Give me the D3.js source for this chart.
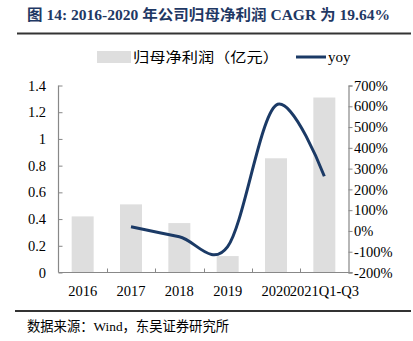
<!DOCTYPE html>
<html><head><meta charset="utf-8">
<script src="https://cdn.jsdelivr.net/npm/d3@7"></script>
<style>body{margin:0;background:#fff}svg{display:block}</style>
</head><body>
<script>
const categories = ["2016","2017","2018","2019","2020","2021Q1-Q3"];
const profit = [0.42, 0.51, 0.37, 0.123, 0.855, 1.31];
const yoy = [null, 20, -28, -75, 605, 263];
const leftTicks = [0,0.2,0.4,0.6,0.8,1,1.2,1.4];
const rightTicks = [-200,-100,0,100,200,300,400,500,600,700];
const title = "图 14: 2016-2020 年公司归母净利润 CAGR 为 19.64%";
const source = "数据来源：Wind，东吴证券研究所";
const legendBar = "归母净利润（亿元）";
const legendLine = "yoy";

const W = 413, H = 341;
const serif = "'Liberation Serif','DejaVu Serif',serif";
const cjk = "'Liberation Serif','Noto Sans CJK SC',serif";
const svg = d3.select("body").append("svg").attr("width", W).attr("height", H);

const x0 = 58.5, x1 = 348.5, yTop = 85.5, yBot = 272.5;
const xc = d3.scaleBand().domain(categories).range([x0, x1]);
const yL = d3.scaleLinear().domain([0, 1.4]).range([yBot, yTop]);
const yR = d3.scaleLinear().domain([-200, 700]).range([yBot, yTop]);

// title
svg.append("text").attr("x", 27).attr("y", 20).attr("fill", "#1f3864")
  .attr("font-family", cjk).attr("font-weight", "bold").attr("font-size", 14.5)
  .attr("textLength", 363).attr("lengthAdjust", "spacingAndGlyphs").text(title);
svg.append("line").attr("x1", 17).attr("x2", 411).attr("y1", 33.5).attr("y2", 33.5)
  .attr("stroke", "#333").attr("stroke-width", 2);

// bars
svg.append("g").selectAll("rect").data(categories).join("rect")
  .attr("x", d => xc(d) + xc.bandwidth()/2 - 11)
  .attr("width", 22)
  .attr("y", (d,i) => yL(profit[i]))
  .attr("height", (d,i) => yBot - yL(profit[i]))
  .attr("fill", "#dedede");

// axes
const axisColor = "#888";
const gL = svg.append("g").attr("transform", `translate(${x0},0)`)
  .call(d3.axisLeft(yL).tickValues(leftTicks).tickSize(-4).tickPadding(12.5).tickFormat(d3.format("")));
const gR = svg.append("g").attr("transform", `translate(${x1},0)`)
  .call(d3.axisRight(yR).tickValues(rightTicks).tickSize(4).tickPadding(1.5).tickFormat(d => d + "%"));
const gB = svg.append("g").attr("transform", `translate(0,${yBot})`)
  .call(d3.axisBottom(xc).tickSize(0).tickPadding(13));
// category boundary ticks
svg.append("g").selectAll("line").data(categories.slice(1)).join("line")
  .attr("x1", d => Math.round(xc(d)) + 0.5).attr("x2", d => Math.round(xc(d)) + 0.5)
  .attr("y1", yBot).attr("y2", yBot - 4).attr("stroke", axisColor);
[gL, gR, gB].forEach(g => {
  g.selectAll("path.domain").attr("stroke", axisColor).attr("stroke-width", 1.2);
  g.selectAll(".tick line").attr("stroke", axisColor);
  g.selectAll("text").attr("font-family", serif).attr("font-size", 14.5).attr("fill", "#000");
});
gL.select("path.domain").remove();
svg.append("line").attr("x1", x0).attr("x2", x0).attr("y1", yTop).attr("y2", yBot).attr("stroke", axisColor).attr("stroke-width", 1.2);
gB.select("path.domain").remove();
svg.append("line").attr("x1", x0).attr("x2", x1 + 4).attr("y1", yBot).attr("y2", yBot).attr("stroke", axisColor).attr("stroke-width", 1.2);

// line
const pts = categories.map((c,i) => [xc(c) + xc.bandwidth()/2, yoy[i]]).filter(p => p[1] !== null);
svg.append("path").datum(pts)
  .attr("d", d3.line().x(d => d[0]).y(d => yR(d[1])).curve(d3.curveCardinal.tension(0)))
  .attr("fill", "none").attr("stroke", "#1b3a66").attr("stroke-width", 3);

// legend
const lg = svg.append("g");
lg.append("rect").attr("x", 97).attr("y", 51).attr("width", 34).attr("height", 12).attr("fill", "#dedede");
lg.append("text").attr("x", 133).attr("y", 62).attr("font-family", cjk).attr("font-size", 14)
  .attr("textLength", 146).attr("lengthAdjust", "spacingAndGlyphs").text(legendBar);
lg.append("line").attr("x1", 296).attr("x2", 326).attr("y1", 57).attr("y2", 57).attr("stroke", "#1b3a66").attr("stroke-width", 3);
lg.append("text").attr("x", 328).attr("y", 62).attr("font-family", serif).attr("font-size", 15).text(legendLine);

// footer
svg.append("line").attr("x1", 15).attr("x2", 411).attr("y1", 311).attr("y2", 311).attr("stroke", "#333").attr("stroke-width", 2);
svg.append("text").attr("x", 27).attr("y", 331).attr("font-family", cjk).attr("font-size", 13.5)
  .attr("textLength", 202).attr("lengthAdjust", "spacingAndGlyphs").text(source);
</script>
</body></html>
